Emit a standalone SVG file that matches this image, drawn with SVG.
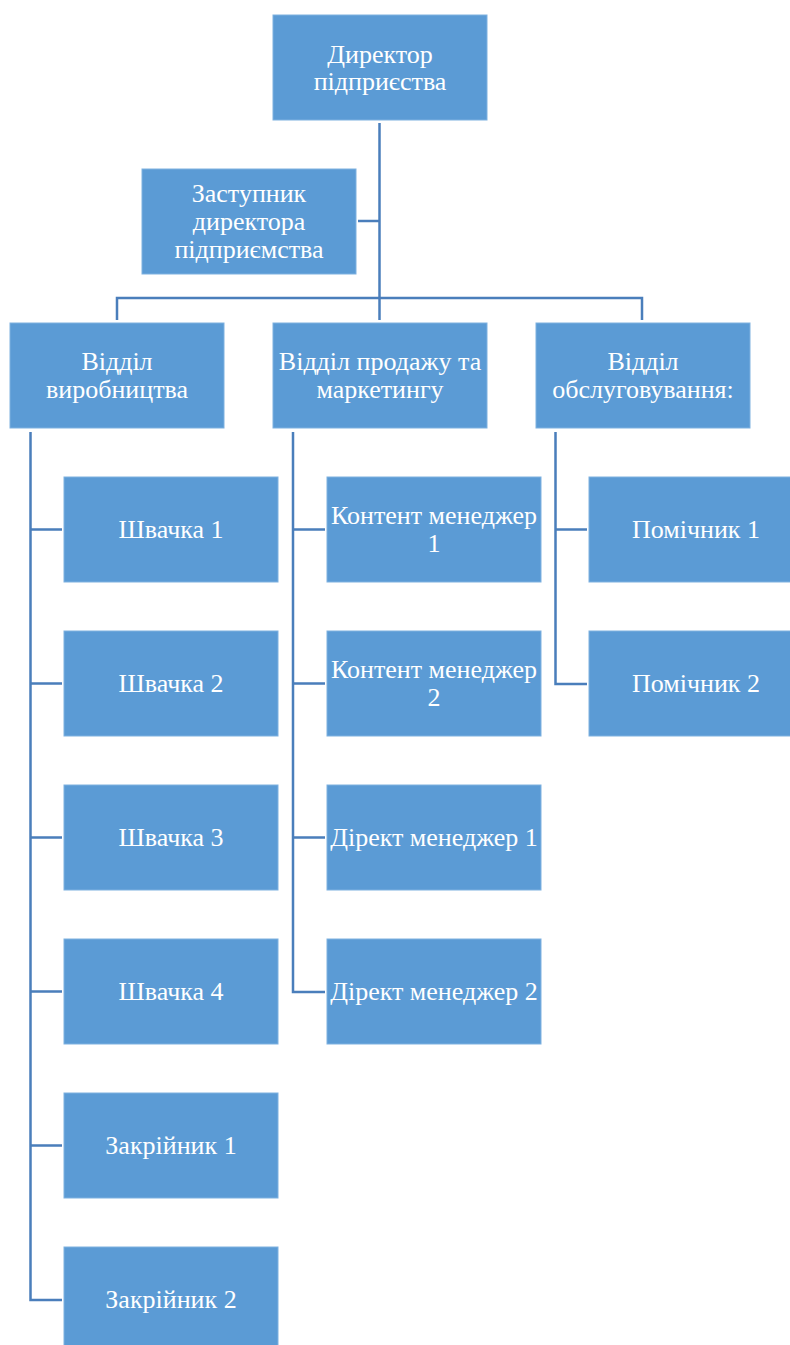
<svg xmlns="http://www.w3.org/2000/svg" width="790" height="1345" viewBox="0 0 790 1345">
<style>
.box{fill:#5B9BD5;stroke:#7EB1E0;stroke-width:1}
.t{font-family:"Liberation Serif","Times New Roman",serif;font-size:26px;fill:#FFFFFF;text-anchor:middle}
.c{fill:none;stroke:#4A7EBB;stroke-width:2.5}
</style>
<rect width="790" height="1345" fill="#FFFFFF"/>
<g id="connectors">
<path class="c" d="M379.5,123 V320"/>
<path class="c" d="M358,221 H379.5"/>
<path class="c" d="M117,320 V298 H642 V320"/>
<path class="c" d="M30.5,432 V1300 H62"/>
<path class="c" d="M30.5,529.5 H62 M30.5,683.5 H62 M30.5,837.5 H62 M30.5,991.5 H62 M30.5,1145.5 H62"/>
<path class="c" d="M293,432 V992 H325"/>
<path class="c" d="M293,529.5 H325 M293,683.5 H325 M293,837.5 H325"/>
<path class="c" d="M555.5,432 V684 H587"/>
<path class="c" d="M555.5,529.5 H587"/>
</g>
<g id="n-director"><rect class="box" x="273" y="15" width="214" height="105"/><text class="t" x="380" y="63">Директор</text><text class="t" x="380" y="90">підприєства</text></g>
<g id="n-deputy"><rect class="box" x="142" y="169" width="214" height="105"/><text class="t" x="249" y="202">Заступник</text><text class="t" x="249" y="230">директора</text><text class="t" x="249" y="258">підприємства</text></g>
<g id="n-prod"><rect class="box" x="10" y="323" width="214" height="105"/><text class="t" x="117" y="370">Відділ</text><text class="t" x="117" y="398">виробництва</text></g>
<g id="n-sales"><rect class="box" x="273" y="323" width="214" height="105"/><text class="t" x="380" y="370">Відділ продажу та</text><text class="t" x="380" y="398">маркетингу</text></g>
<g id="n-service"><rect class="box" x="536" y="323" width="214" height="105"/><text class="t" x="643" y="370">Відділ</text><text class="t" x="643" y="398">обслуговування:</text></g>
<g id="n-sh1"><rect class="box" x="64" y="477" width="214" height="105"/><text class="t" x="171" y="538">Швачка 1</text></g>
<g id="n-sh2"><rect class="box" x="64" y="631" width="214" height="105"/><text class="t" x="171" y="692">Швачка 2</text></g>
<g id="n-sh3"><rect class="box" x="64" y="785" width="214" height="105"/><text class="t" x="171" y="846">Швачка 3</text></g>
<g id="n-sh4"><rect class="box" x="64" y="939" width="214" height="105"/><text class="t" x="171" y="1000">Швачка 4</text></g>
<g id="n-za1"><rect class="box" x="64" y="1093" width="214" height="105"/><text class="t" x="171" y="1154">Закрійник 1</text></g>
<g id="n-za2"><rect class="box" x="64" y="1247" width="214" height="105"/><text class="t" x="171" y="1308">Закрійник 2</text></g>
<g id="n-km1"><rect class="box" x="327" y="477" width="214" height="105"/><text class="t" x="434" y="524">Контент менеджер</text><text class="t" x="434" y="552">1</text></g>
<g id="n-km2"><rect class="box" x="327" y="631" width="214" height="105"/><text class="t" x="434" y="678">Контент менеджер</text><text class="t" x="434" y="706">2</text></g>
<g id="n-dm1"><rect class="box" x="327" y="785" width="214" height="105"/><text class="t" x="434" y="846">Дірект менеджер 1</text></g>
<g id="n-dm2"><rect class="box" x="327" y="939" width="214" height="105"/><text class="t" x="434" y="1000">Дірект менеджер 2</text></g>
<g id="n-p1"><rect class="box" x="589" y="477" width="214" height="105"/><text class="t" x="696" y="538">Помічник 1</text></g>
<g id="n-p2"><rect class="box" x="589" y="631" width="214" height="105"/><text class="t" x="696" y="692">Помічник 2</text></g>
</svg>
